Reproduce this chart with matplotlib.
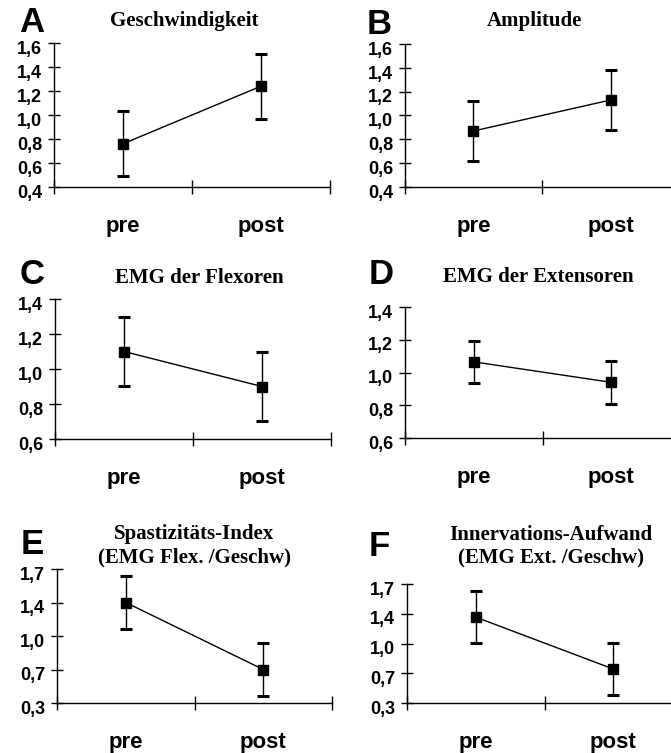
import numpy as np
import matplotlib
matplotlib.use('Agg')
import matplotlib.pyplot as plt
import matplotlib.transforms as mtransforms

# Data
conditions = ['pre', 'post']
letters = ['A', 'B', 'C', 'D', 'E', 'F']
titles = ['Geschwindigkeit', 'Amplitude', 'EMG der Flexoren', 'EMG der Extensoren',
          'Spastizitäts-Index\n(EMG Flex. /Geschw)', 'Innervations-Aufwand\n(EMG Ext. /Geschw)']

means_a = [0.76, 1.24]
err_a = [0.27, 0.27]
means_b = [0.87, 1.13]
err_b = [0.25, 0.25]
means_c = [1.10, 0.90]
err_c = [0.195, 0.195]
means_d = [1.065, 0.94]
err_d = [0.13, 0.13]
means_e = [1.35, 0.65]
err_e = [0.275, 0.275]
means_f = [1.31, 0.70]
err_f = [0.305, 0.305]

yticks_ab = [0.4, 0.6, 0.8, 1.0, 1.2, 1.4, 1.6]
ylabels_ab = ['0,4', '0,6', '0,8', '1,0', '1,2', '1,4', '1,6']
yticks_cd = [0.6, 0.8, 1.0, 1.2, 1.4]
ylabels_cd = ['0,6', '0,8', '1,0', '1,2', '1,4']
yticks_ef = [0.3, 0.65, 1.0, 1.35, 1.7]
ylabels_ef = ['0,3', '0,7', '1,0', '1,4', '1,7']

# Layout in pixels (left, top, right, bottom)
W, H = 671, 753
boxes = [(54, 43, 330, 187), (405, 44, 679, 187),
         (55, 299, 331, 439), (405, 307, 680, 438),
         (57, 569, 332, 703), (407, 584, 682, 703)]
title_pos = [(184, 21), (534, 21), (199, 278), (538, 277), (194, 546), (551, 546)]
letter_pos = [(32, 22), (379, 24), (32, 275), (381, 275), (32, 545), (379, 546)]

panels = [
    (means_a, err_a, yticks_ab, ylabels_ab),
    (means_b, err_b, yticks_ab, ylabels_ab),
    (means_c, err_c, yticks_cd, ylabels_cd),
    (means_d, err_d, yticks_cd, ylabels_cd),
    (means_e, err_e, yticks_ef, ylabels_ef),
    (means_f, err_f, yticks_ef, ylabels_ef),
]

fig = plt.figure(figsize=(W / 100, H / 100), dpi=100)
tick_font = {'family': 'Liberation Sans', 'weight': 'bold', 'size': 13}

x = np.arange(len(conditions)) + 0.5

for i, (means, errs, yt, yl) in enumerate(panels):
    l, t, r, b = boxes[i]
    ax = fig.add_axes([l / W, 1 - b / H, (r - l) / W, (b - t) / H])
    ax.errorbar(x, means, yerr=errs, color='black', lw=1, marker='s', ms=6.5,
                elinewidth=1, capsize=4, capthick=2.2, clip_on=False)
    ax.set_xlim(0, 2)
    ax.set_ylim(yt[0], yt[-1])
    ax.spines['top'].set_visible(False)
    ax.spines['right'].set_visible(False)
    ax.spines['left'].set_linewidth(1)
    ax.spines['bottom'].set_linewidth(1)

    ax.set_xticks([0, 1, 2])
    ax.set_xticklabels([])
    ax.set_xticks(x, minor=True)
    ax.set_xticklabels(conditions, minor=True, fontfamily='Liberation Sans',
                       fontweight='bold', fontsize=16)
    ax.tick_params(axis='x', which='major', direction='inout', length=10, width=1)
    ax.tick_params(axis='x', which='minor', length=0, pad=21)

    ax.set_yticks(yt)
    ax.set_yticklabels(yl, fontdict=tick_font)
    ax.tick_params(axis='y', direction='inout', length=9, width=1, pad=4)
    shift = mtransforms.ScaledTranslation(0, -3 / 72, fig.dpi_scale_trans)
    for lab in ax.get_yticklabels():
        lab.set_transform(lab.get_transform() + shift)

    tx, ty = title_pos[i]
    fig.text(tx / W, 1 - ty / H, titles[i], ha='center', va='center',
             family='Liberation Serif', weight='bold', fontsize=15, linespacing=1.2)
    lx, ly = letter_pos[i]
    fig.text(lx / W, 1 - ly / H, letters[i], ha='center', va='center',
             family='Liberation Sans', weight='bold', fontsize=25)

fig.savefig('out.png', dpi=100)
